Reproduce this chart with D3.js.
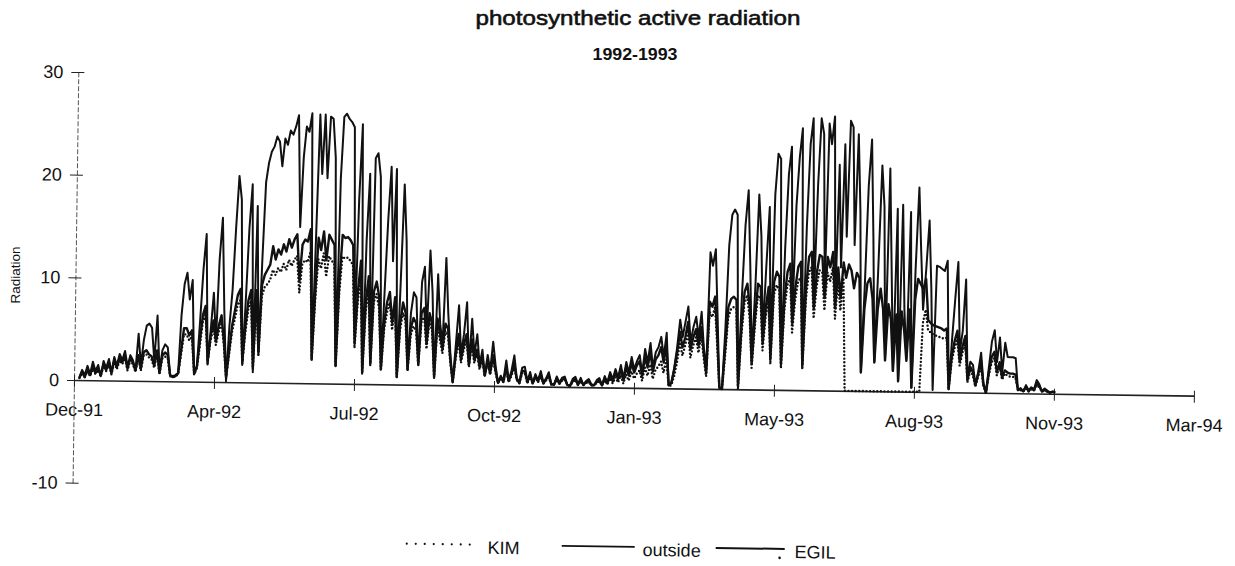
<!DOCTYPE html>
<html>
<head>
<meta charset="utf-8">
<script src="https://cdn.jsdelivr.net/npm/d3@7"></script>
<style>
  body { margin: 0; background: #fff; }
  text { font-family: "Liberation Sans", Arial, sans-serif; fill: #111; }
</style>
</head>
<body>
<svg id="chart" width="1235" height="566"></svg>
<script>
// x axis labels, one every tickDays
const tickLabels = ['Dec-91', 'Apr-92', 'Jul-92', 'Oct-92', 'Jan-93', 'May-93', 'Aug-93', 'Nov-93', 'Mar-94'];
const yTicks = [-10, 0, 10, 20, 30];
const tickDays = 105;
const firstDay = 4;   // first reading, days after Dec-91 tick
const stepDays = 2;   // one value every 2 days

const outside = [
  0.3,1.0,0.5,1.4,0.6,1.8,0.9,1.5,0.4,1.9,1.2,2.1,0.8,2.3,1.5,2.6,2.0,2.9,1.4,2.5,
  2.0,1.0,4.6,1.5,4.0,5.4,5.6,5.2,2.0,6.4,1.0,3.0,3.6,3.3,0.6,0.4,0.5,0.8,6.5,9.5,
  10.6,8.0,9.9,0.7,1.5,6.0,11.0,14.4,1.7,5.0,8.7,4.0,12.0,16.0,7.0,0.1,5.5,9.0,15.0,20.1,
  17.8,1.7,8.0,15.0,19.3,1.0,17.2,2.7,12.0,19.5,21.4,22.5,23.0,24.0,23.5,21.1,23.8,23.2,24.6,24.2,
  25.0,26.1,15.2,22.0,25.0,24.5,26.3,2.3,14.0,26.2,20.4,26.2,20.0,26.0,25.8,22.0,1.7,20.0,26.0,26.3,
  25.8,25.5,25.0,5.0,18.0,25.3,1.0,14.0,20.5,2.0,22.0,22.5,20.2,1.5,9.0,16.0,21.2,12.0,21.0,0.7,
  10.0,19.5,14.0,1.5,7.0,9.0,8.5,2.0,10.0,11.5,5.0,13.1,9.0,0.8,10.8,6.0,4.0,12.4,7.0,3.0,
  0.3,4.0,7.8,3.0,5.0,8.1,2.0,6.5,3.0,5.0,2.0,3.5,1.0,3.0,1.5,4.3,2.0,0.3,1.0,0.5,
  2.5,0.6,1.5,3.0,0.8,0.4,1.8,1.9,0.5,1.4,0.3,1.2,0.6,1.5,0.4,0.8,1.4,0.3,0.2,1.0,
  0.4,0.9,1.0,0.2,0.1,0.8,1.0,0.3,0.9,0.2,0.6,0.8,0.3,0.2,0.7,0.9,0.2,1.1,0.5,1.5,
  0.8,1.8,1.0,2.2,0.9,2.5,1.5,3.0,1.8,2.6,3.2,1.4,3.8,2.5,4.4,2.0,3.5,4.0,5.0,3.0,
  5.4,0.3,0.6,2.0,4.0,6.7,5.0,6.5,8.0,4.5,6.0,7.0,5.0,7.5,4.0,2.0,13.3,12.0,13.6,7.0,
  0.2,0.0,6.0,14.0,17.0,17.5,17.0,0.3,9.0,16.0,19.4,12.0,3.0,10.0,19.0,15.0,5.4,12.0,17.8,3.7,
  19.0,23.0,22.5,2.7,14.0,21.0,23.7,7.3,18.0,22.7,25.5,2.5,16.0,24.0,26.5,9.0,20.0,26.5,25.0,10.0,
  26.0,24.0,26.7,8.6,22.0,12.0,24.0,15.0,26.3,25.7,14.2,25.0,17.5,1.9,10.0,20.0,24.5,15.0,2.9,12.0,
  22.0,18.0,3.2,21.7,12.0,2.0,17.8,1.0,18.2,8.0,3.2,17.5,0.4,12.0,19.9,13.7,8.0,12.0,16.7,10.0,
  0.2,12.3,12.2,12.0,11.8,12.8,0.3,5.0,9.0,12.7,4.0,6.0,11.0,1.5,3.0,2.7,0.8,2.0,3.9,1.0,
  0.0,2.5,5.0,6.1,3.0,5.4,2.0,4.9,3.5,3.5,3.5,3.4,0.3,0.5,0.2,0.8,0.3,0.6,0.4,1.3,
  0.9,0.2,0.5,0.3,0.1,0.2,0.1
];

const egil = [
  0.2,0.8,0.3,1.0,0.5,1.3,0.7,1.2,0.5,1.6,1.0,1.8,0.7,2.0,1.3,2.2,1.8,2.4,1.2,2.2,
  1.8,1.0,2.5,1.2,2.8,3.0,2.6,2.4,1.5,3.0,0.8,2.5,2.8,2.6,0.6,0.5,0.6,0.8,3.0,5.2,
  5.2,4.5,5.0,0.8,1.5,4.0,6.5,7.4,2.0,4.5,6.0,4.0,5.5,6.5,4.0,0.5,3.0,5.5,7.0,8.5,
  9.1,2.0,5.5,8.0,9.0,1.5,9.0,3.0,9.5,10.5,11.0,11.5,13.3,12.0,13.0,12.5,13.5,12.8,14.0,13.2,
  14.0,14.5,10.0,13.5,14.0,13.8,15.0,2.5,9.0,14.2,13.0,14.8,12.0,14.5,14.0,13.5,1.8,10.0,14.5,14.2,
  14.3,14.0,13.5,4.0,9.0,12.0,1.2,8.0,10.5,2.0,9.0,10.0,8.5,1.5,6.0,8.0,9.0,6.0,8.5,0.8,
  6.0,8.0,7.0,1.5,5.5,6.5,6.0,2.0,7.0,7.5,4.0,7.0,6.0,0.8,6.5,5.0,3.5,6.0,5.5,2.5,
  0.3,3.0,5.0,2.5,4.0,5.0,2.0,4.5,2.5,3.5,1.8,2.8,1.0,2.5,1.2,3.0,1.5,0.3,0.8,0.4,
  1.8,0.5,1.2,2.2,0.7,0.3,1.5,1.5,0.4,1.1,0.3,1.0,0.5,1.2,0.3,0.7,1.1,0.2,0.2,0.8,
  0.3,0.7,0.8,0.2,0.1,0.6,0.8,0.2,0.7,0.2,0.5,0.6,0.2,0.2,0.5,0.7,0.2,0.9,0.4,1.2,
  0.6,1.5,0.8,1.8,0.7,2.0,1.2,2.4,1.5,2.2,2.6,1.2,3.0,2.0,3.5,1.6,2.8,3.2,4.0,2.5,
  4.2,0.3,0.5,1.8,3.5,5.5,4.0,5.0,6.5,3.8,5.0,5.8,4.2,6.0,3.5,1.5,8.5,8.0,9.0,5.0,
  0.2,0.0,4.0,8.0,8.8,9.0,8.7,0.3,6.0,9.5,10.3,8.0,2.5,7.0,10.3,10.0,4.5,8.0,10.0,3.0,
  10.5,11.5,11.0,2.5,9.0,11.5,12.3,6.5,10.0,12.0,12.5,2.3,10.0,13.0,13.5,8.0,11.5,13.2,13.0,9.0,
  13.0,12.0,13.5,8.0,12.0,9.0,12.5,11.0,12.3,11.7,10.0,11.5,11.0,1.8,8.0,10.5,11.0,9.0,2.8,8.0,
  10.0,8.0,3.0,8.5,7.0,2.0,7.5,1.0,7.8,6.0,3.0,8.0,0.4,9.0,11.0,10.5,10.0,11.0,7.0,6.7,
  6.5,6.4,6.3,6.2,6.0,6.2,0.3,3.5,5.0,6.0,3.0,4.5,5.5,1.2,2.5,2.0,0.7,1.8,3.0,0.8,
  0.0,2.0,3.5,4.0,2.0,3.0,1.5,2.2,2.0,1.9,1.9,1.8,0.3,0.4,0.2,0.6,0.2,0.5,0.3,1.0,
  0.7,0.2,0.4,0.2,0.1,0.2,0.1
];

const kim = [
  0.2,0.7,0.3,0.9,0.4,1.1,0.6,1.0,0.4,1.4,0.9,1.6,0.6,1.8,1.1,2.0,1.6,2.2,1.0,2.0,
  1.6,0.9,2.2,1.0,2.5,2.6,2.3,2.1,1.3,2.6,0.7,2.2,2.4,2.3,0.5,0.4,0.5,0.7,2.6,4.6,
  4.6,4.0,4.4,0.7,1.3,3.5,5.8,6.6,1.8,4.0,5.3,3.6,4.9,5.8,3.6,0.4,2.7,4.9,6.2,7.6,
  8.0,1.8,4.9,7.1,8.0,1.3,8.0,2.7,8.4,9.3,9.6,10.0,11.0,10.5,11.2,10.8,11.6,11.0,12.0,11.4,
  12.0,12.4,8.8,11.6,12.0,11.8,12.8,2.2,8.0,12.1,11.2,12.7,10.4,12.4,12.0,11.6,1.6,8.8,12.4,12.2,
  12.3,12.0,11.6,3.5,8.0,10.4,1.0,7.0,9.2,1.8,8.0,8.8,7.4,1.3,5.3,7.0,8.0,5.3,7.5,0.7,
  5.3,7.0,6.2,1.3,4.8,5.7,5.3,1.8,6.2,6.6,3.5,6.2,5.3,0.7,5.7,4.4,3.1,5.3,4.8,2.2,
  0.3,2.6,4.4,2.2,3.5,4.4,1.8,4.0,2.2,3.1,1.6,2.5,0.9,2.2,1.1,2.6,1.3,0.3,0.7,0.4,
  1.5,0.4,1.0,1.9,0.6,0.3,1.3,1.3,0.3,0.9,0.3,0.9,0.4,1.0,0.3,0.6,0.9,0.2,0.2,0.7,
  0.3,0.6,0.7,0.2,0.1,0.5,0.7,0.2,0.6,0.2,0.4,0.5,0.2,0.2,0.4,0.6,0.2,0.7,0.3,0.9,
  0.4,1.0,0.5,1.2,0.4,1.3,0.7,1.6,0.9,1.4,1.7,0.7,2.0,1.2,2.3,0.9,1.8,2.1,2.6,1.5,
  2.8,0.2,0.3,1.2,2.5,4.5,3.2,4.2,5.5,3.0,4.2,5.0,3.5,5.2,3.0,1.2,7.5,7.0,8.0,4.2,
  0.1,0.0,3.2,7.0,7.8,8.0,7.8,0.0,5.2,8.4,9.2,7.0,2.1,6.1,9.2,8.8,3.8,7.0,8.8,2.5,
  9.3,10.2,9.7,2.1,7.8,10.2,10.9,5.6,8.8,10.6,11.0,2.0,8.8,11.5,12.0,7.0,10.2,11.7,11.5,7.8,
  11.5,10.6,12.0,7.0,10.6,7.8,11.0,0,0,0,0,0,0,0,0,0,0,0,0,0,
  0,0,0,0,0,0,0,0,0,0,0,0,0,0,0,0,6.7,8.0,6.0,5.8,
  5.6,5.5,5.4,5.3,5.2,5.3,0.3,3.0,4.3,5.2,2.6,3.9,4.7,1.0,2.1,1.7,0.6,1.5,2.6,0.7,
  0.0,1.7,3.0,3.4,1.7,2.6,1.3,1.9,1.7,1.6,1.6,1.5,0.3,0.3,0.2,0.5,0.2,0.4,0.3,0.8,
  0.6,0.2,0.3,0.2,0.1,0.2,0.1
];

const svg = d3.select('#chart');

const x = d3.scaleLinear().domain([0, 8 * tickDays]).range([74, 1194]);
const y = d3.scaleLinear().domain([-10, 30]).range([482.7, 72]);

// titles
svg.append('text')
  .attr('x', 638).attr('y', 25)
  .attr('text-anchor', 'middle')
  .attr('font-size', 21)
  .attr('textLength', 325).attr('lengthAdjust', 'spacingAndGlyphs')
  .style('stroke', '#111').style('stroke-width', 0.6)
  .text('photosynthetic active radiation');

svg.append('text')
  .attr('x', 635).attr('y', 60)
  .attr('text-anchor', 'middle')
  .attr('font-size', 16).attr('font-weight', 'bold')
  .attr('textLength', 85).attr('lengthAdjust', 'spacingAndGlyphs')
  .text('1992-1993');

svg.append('text')
  .attr('transform', 'translate(20,275) rotate(-90)')
  .attr('text-anchor', 'middle')
  .attr('font-size', 13.5)
  .text('Radiation');

// the scanned page sits a little crooked
const plot = svg.append('g').attr('transform', 'rotate(0.8,74,380)');

// y axis
const yAxis = plot.append('g')
  .attr('transform', `translate(${x(0)},0)`)
  .call(d3.axisLeft(y).tickValues(yTicks).tickFormat(d => String(d))
    .tickSizeInner(7).tickSizeOuter(0));
yAxis.select('.domain')
  .attr('stroke', '#555').attr('stroke-width', 1).attr('stroke-dasharray', '5,2');
yAxis.selectAll('.tick line').attr('x1', 6).attr('x2', -7).attr('stroke', '#222');
yAxis.selectAll('.tick text')
  .attr('x', -15).attr('font-size', 18).attr('font-family', null);

// x axis along zero
const xAxis = plot.append('g')
  .attr('transform', `translate(0,${y(0)})`)
  .call(d3.axisBottom(x)
    .tickValues(d3.range(tickLabels.length).map(i => i * tickDays))
    .tickFormat((d, i) => tickLabels[i])
    .tickSizeInner(7).tickSizeOuter(0));
xAxis.select('.domain').attr('stroke', '#222').attr('stroke-width', 1.6);
xAxis.selectAll('.tick line').attr('y1', -5).attr('y2', 7).attr('stroke', '#222');
xAxis.selectAll('.tick text')
  .attr('y', 23).attr('font-size', 18).attr('font-family', null);

// series
const line = d3.line()
  .x((d, i) => x(firstDay + i * stepDays))
  .y(d => y(d));

plot.append('path')
  .datum(outside)
  .attr('d', line)
  .attr('fill', 'none')
  .attr('stroke', '#111')
  .attr('stroke-width', 2)
  .attr('stroke-linejoin', 'round');

plot.append('path')
  .datum(egil)
  .attr('d', line)
  .attr('fill', 'none')
  .attr('stroke', '#111')
  .attr('stroke-width', 2.4)
  .attr('stroke-linejoin', 'round');

plot.append('path')
  .datum(kim)
  .attr('d', line)
  .attr('fill', 'none')
  .attr('stroke', '#111')
  .attr('stroke-width', 2.4)
  .attr('stroke-linecap', 'round')
  .attr('stroke-dasharray', '0,3.6');

// legend
const legend = plot.append('g');
const legendItems = [
  { name: 'KIM', x1: 409, x2: 474, dash: '0,9', width: 2.2, tx: 490 },
  { name: 'outside', x1: 564, x2: 637, dash: null, width: 1.6, tx: 645 },
  { name: 'EGIL', x1: 718, x2: 787, dash: null, width: 2.0, tx: 797 }
];
legendItems.forEach(d => {
  legend.append('line')
    .attr('x1', d.x1).attr('x2', d.x2)
    .attr('y1', 539).attr('y2', 539)
    .attr('stroke', '#111')
    .attr('stroke-width', d.width)
    .attr('stroke-linecap', d.dash ? 'round' : 'butt')
    .attr('stroke-dasharray', d.dash);
  legend.append('text')
    .attr('x', d.tx).attr('y', 548)
    .attr('font-size', 18)
    .text(d.name);
});
legend.append('circle').attr('cx', 782).attr('cy', 548).attr('r', 1.3).attr('fill', '#111');
</script>
</body>
</html>
